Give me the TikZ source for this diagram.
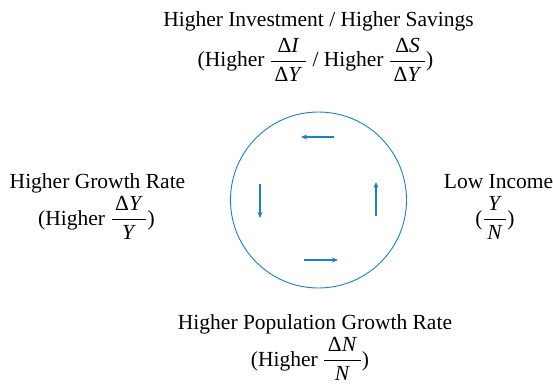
\documentclass[tikz,border=0pt]{standalone}
\usepackage{amsmath}
\usepackage{fontspec}
\setmainfont{Liberation Serif}
\usetikzlibrary{arrows.meta}
\definecolor{cycblue}{RGB}{28,128,200}
\newcommand{\tfr}[2]{$\dfrac{\mbox{\,#1\,}}{\mbox{\,#2\,}}$}
\begin{document}
\begin{tikzpicture}[x=1pt,y=-1pt,
  lbl/.style={anchor=base,inner sep=0pt,font=\fontsize{21.5}{25}\selectfont},
  cyc/.style={draw=cycblue,line width=1.3pt,-{Stealth[length=6pt,width=5pt]}}]
\useasboundingbox (0,0) rectangle (553,385);
\node[circle,draw=cycblue,line width=0.9pt,minimum size=176pt,inner sep=0pt] (c) at (318.5,200) {};
% arrows
\coordinate (t1) at (334,137); \coordinate (t2) at (301,137);
\coordinate (l1) at (260,184); \coordinate (l2) at (260,218);
\coordinate (r1) at (376,216); \coordinate (r2) at (376,182);
\coordinate (b1) at (304,260); \coordinate (b2) at (338,260);
\draw[cyc] (t1) -- (t2);
\draw[cyc] (l1) -- (l2);
\draw[cyc] (r1) -- (r2);
\draw[cyc] (b1) -- (b2);
% labels
\node[lbl] (top1) at (318.5,27) {Higher Investment / Higher Savings};
\node[lbl] (top2) at (315.5,67) {(Higher \tfr{Δ\textit{I}}{Δ\textit{Y}} / Higher \tfr{Δ\textit{S}}{Δ\textit{Y}})};
\node[lbl] (left1) at (97.5,188) {Higher Growth Rate};
\node[lbl] (left2) at (96.5,225) {(Higher \tfr{Δ\textit{Y}}{\textit{Y}})};
\node[lbl] (right1) at (498.5,188) {Low Income};
\node[lbl] (right2) at (495,225) {(\tfr{\textit{Y}}{\textit{N}})};
\node[lbl] (bot1) at (315,329) {Higher Population Growth Rate};
\node[lbl] (bot2) at (310,366) {(Higher \tfr{Δ\textit{N}}{\textit{N}})};
\end{tikzpicture}
\end{document}
